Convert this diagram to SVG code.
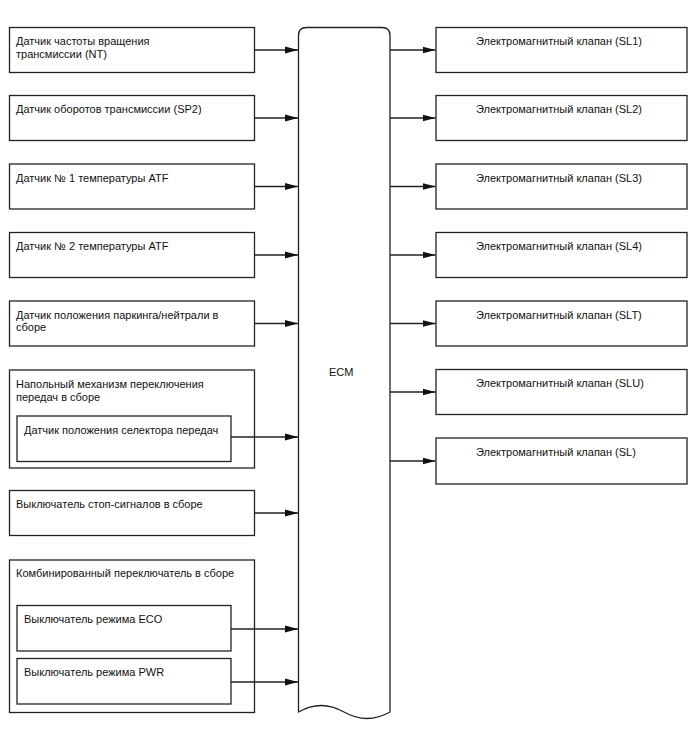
<svg xmlns="http://www.w3.org/2000/svg" width="688" height="755" viewBox="0 0 688 755">
<style>
.b{fill:#fff;stroke:#222;stroke-width:1.3}
.t{font-family:"Liberation Sans",Arial,sans-serif;font-size:11px;fill:#111}
.c{stroke:#222;stroke-width:1.3;fill:none}
</style>
<defs>
<marker id="ah" markerWidth="13" markerHeight="8" refX="13" refY="4" orient="auto" markerUnits="userSpaceOnUse">
<path d="M0,0.5 L13,4 L0,7.5 Z" fill="#111"/>
</marker>
</defs>
<rect width="688" height="755" fill="#fff"/>
<g id="ecm">
<path class="b" d="M298.5,712 L298.5,35.5 Q298.5,27.5 306.5,27.5 L382,27.5 Q390,27.5 390,35.5 L390,712 Q367,725 344,712 T298.5,712 Z"/>
<text class="t" x="329" y="376">ECM</text>
</g>
<g id="n1"><rect class="b" x="9.5" y="27.5" width="245" height="45"/><text class="t" x="16" y="45">Датчик частоты вращения</text><text class="t" x="16" y="58">трансмиссии (NT)</text></g>
<g id="n2"><rect class="b" x="9.5" y="95.5" width="245" height="45"/><text class="t" x="16" y="113">Датчик оборотов трансмиссии (SP2)</text></g>
<g id="n3"><rect class="b" x="9.5" y="164" width="245" height="45"/><text class="t" x="16" y="181.5">Датчик № 1 температуры ATF</text></g>
<g id="n4"><rect class="b" x="9.5" y="232.5" width="245" height="45"/><text class="t" x="16" y="250">Датчик № 2 температуры ATF</text></g>
<g id="n5"><rect class="b" x="9.5" y="301" width="245" height="45"/><text class="t" x="16" y="318.5">Датчик положения паркинга/нейтрали в</text><text class="t" x="16" y="331">сборе</text></g>
<g id="n6"><rect class="b" x="9.5" y="370" width="245" height="98"/><text class="t" x="16" y="388">Напольный механизм переключения</text><text class="t" x="16" y="401">передач в сборе</text></g>
<g id="n6a"><rect class="b" x="17" y="416" width="214" height="45.5"/><text class="t" x="24" y="433.5">Датчик положения селектора передач</text></g>
<g id="n7"><rect class="b" x="9.5" y="490.5" width="245" height="45"/><text class="t" x="16" y="508">Выключатель стоп-сигналов в сборе</text></g>
<g id="n8"><rect class="b" x="9.5" y="560" width="245" height="152.5"/><text class="t" x="16" y="577">Комбинированный переключатель в сборе</text></g>
<g id="n8a"><rect class="b" x="17" y="605.5" width="214" height="45.5"/><text class="t" x="24" y="623">Выключатель режима ECO</text></g>
<g id="n8b"><rect class="b" x="17" y="658.5" width="214" height="45.5"/><text class="t" x="24" y="676">Выключатель режима PWR</text></g>
<g id="r1"><rect class="b" x="436" y="27.5" width="251" height="45"/><text class="t" x="476" y="45">Электромагнитный клапан (SL1)</text></g>
<g id="r2"><rect class="b" x="436" y="95.5" width="251" height="45"/><text class="t" x="476" y="113">Электромагнитный клапан (SL2)</text></g>
<g id="r3"><rect class="b" x="436" y="164" width="251" height="45"/><text class="t" x="476" y="181.5">Электромагнитный клапан (SL3)</text></g>
<g id="r4"><rect class="b" x="436" y="232.5" width="251" height="45"/><text class="t" x="476" y="250">Электромагнитный клапан (SL4)</text></g>
<g id="r5"><rect class="b" x="436" y="301" width="251" height="45"/><text class="t" x="476" y="318.5">Электромагнитный клапан (SLT)</text></g>
<g id="r6"><rect class="b" x="436" y="369.5" width="251" height="45"/><text class="t" x="476" y="387">Электромагнитный клапан (SLU)</text></g>
<g id="r7"><rect class="b" x="436" y="438" width="251" height="46"/><text class="t" x="476" y="455.5">Электромагнитный клапан (SL)</text></g>
<g id="connectors">
<line class="c" x1="254.5" y1="50" x2="298" y2="50" marker-end="url(#ah)"/>
<line class="c" x1="254.5" y1="118" x2="298" y2="118" marker-end="url(#ah)"/>
<line class="c" x1="254.5" y1="186.5" x2="298" y2="186.5" marker-end="url(#ah)"/>
<line class="c" x1="254.5" y1="255" x2="298" y2="255" marker-end="url(#ah)"/>
<line class="c" x1="254.5" y1="323.5" x2="298" y2="323.5" marker-end="url(#ah)"/>
<line class="c" x1="231" y1="437" x2="298" y2="437" marker-end="url(#ah)"/>
<line class="c" x1="254.5" y1="513" x2="298" y2="513" marker-end="url(#ah)"/>
<line class="c" x1="231" y1="629" x2="298" y2="629" marker-end="url(#ah)"/>
<line class="c" x1="231" y1="682" x2="298" y2="682" marker-end="url(#ah)"/>
<line class="c" x1="390" y1="50" x2="435.5" y2="50" marker-end="url(#ah)"/>
<line class="c" x1="390" y1="118" x2="435.5" y2="118" marker-end="url(#ah)"/>
<line class="c" x1="390" y1="186.5" x2="435.5" y2="186.5" marker-end="url(#ah)"/>
<line class="c" x1="390" y1="255" x2="435.5" y2="255" marker-end="url(#ah)"/>
<line class="c" x1="390" y1="323.5" x2="435.5" y2="323.5" marker-end="url(#ah)"/>
<line class="c" x1="390" y1="392" x2="435.5" y2="392" marker-end="url(#ah)"/>
<line class="c" x1="390" y1="461" x2="435.5" y2="461" marker-end="url(#ah)"/>
</g>
</svg>
